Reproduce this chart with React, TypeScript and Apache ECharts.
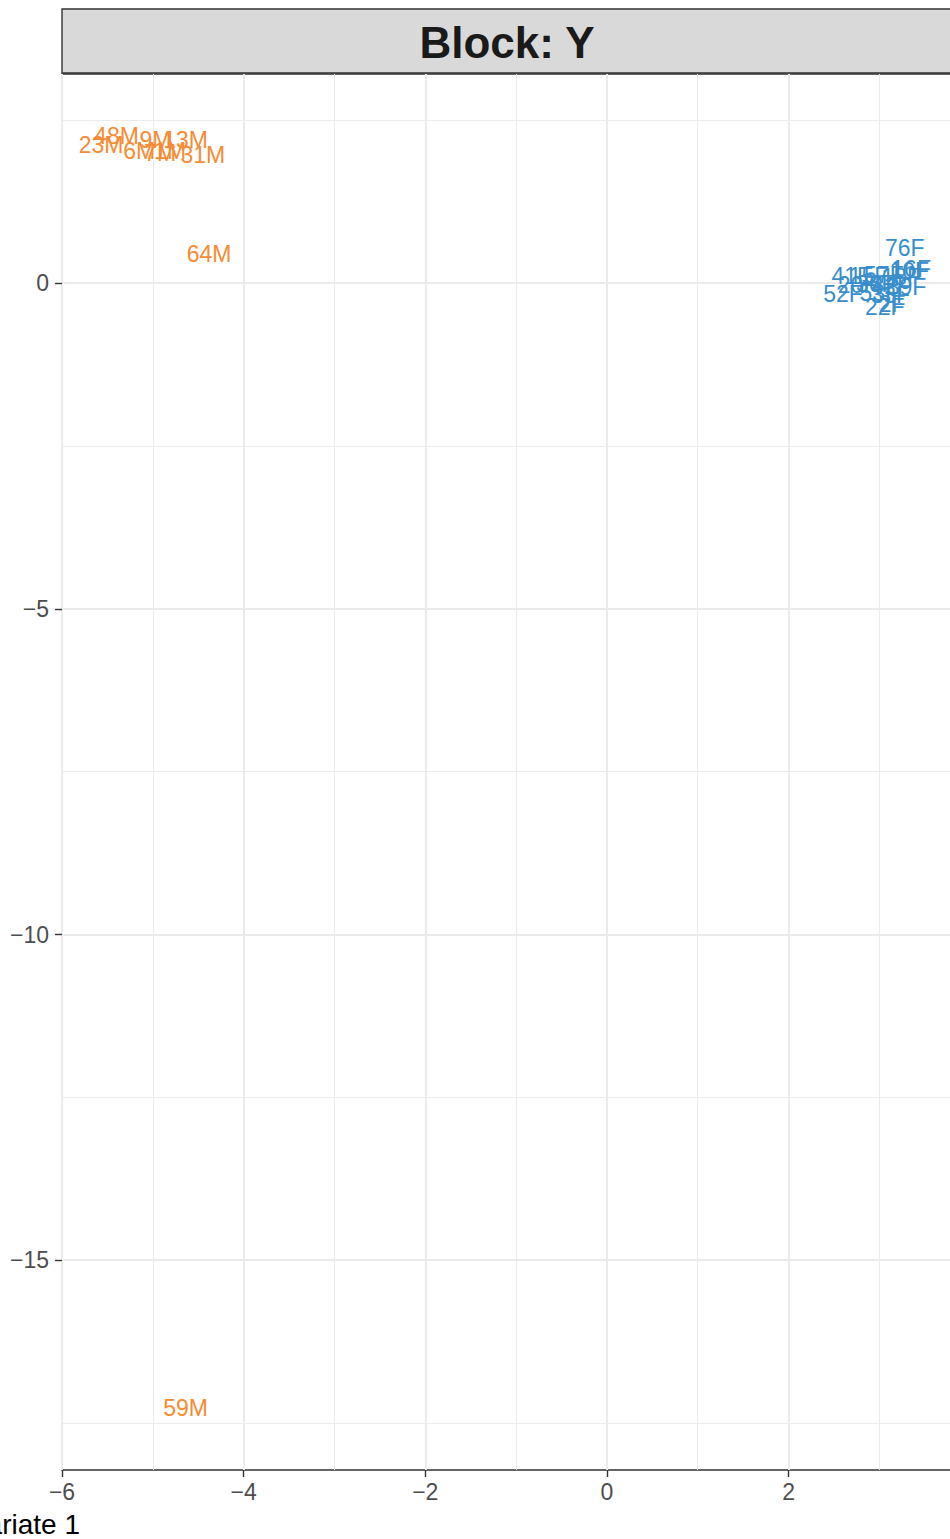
import React, { useEffect, useRef } from "react";
import * as echarts from "echarts";

// Orange group (M)
const maleNames = ["23M", "48M", "6M", "7M", "1M", "9M", "13M", "31M", "64M", "59M"];
const maleX = [-5.57, -5.40, -5.15, -4.92, -4.81, -4.97, -4.64, -4.45, -4.38, -4.64];
const maleY = [2.12, 2.26, 2.03, 2.0, 2.03, 2.2, 2.19, 1.96, 0.45, -17.27];

// Blue group (F)
const femaleNames = ["76F", "16F", "10F", "41F", "15F", "57F", "18F", "20F", "36F", "42F", "39F", "52F", "53F", "33F", "22F", "2F"];
const femaleX = [3.28, 3.35, 3.33, 2.69, 2.88, 3.05, 3.24, 2.76, 2.96, 3.13, 3.3, 2.6, 3.0, 3.12, 3.06, 3.14];
const femaleY = [0.54, 0.22, 0.18, 0.11, 0.11, 0.12, 0.1, -0.03, -0.02, -0.04, -0.06, -0.17, -0.15, -0.18, -0.36, -0.32];

const xTicks = [-6, -4, -2, 0, 2];
const yTicks = [-15, -10, -5, 0];

const FONT = "'Liberation Sans', Arial, Helvetica, sans-serif";
const ORANGE = "#F68B33";
const BLUE = "#388ECC";

const fmt = (v: number) => (v < 0 ? "\u2212" + Math.abs(v) : String(v));

export default function App() {
  const ref = useRef<HTMLDivElement>(null);
  useEffect(() => {
    if (!ref.current) return;
    const chart = echarts.init(ref.current, undefined, { renderer: "svg" });
    const mk = (names: string[], xs: number[], ys: number[]) =>
      names.map((n, i) => ({ name: n, value: [xs[i], ys[i]] }));
    const labelCommon = (color: string) => ({
      show: true,
      position: "inside",
      formatter: (p: any) => p.name,
      color,
      opacity: 1,
      fontSize: 23,
      fontFamily: FONT,
    });
    const splitLine = { show: true, lineStyle: { color: "#EBEBEB", width: 2 } };
    const minorSplitLine = { show: true, lineStyle: { color: "#EBEBEB", width: 1 } };
    const tickStyle = { color: "#333333", width: 1.4 };
    chart.setOption({
      animation: false,
      backgroundColor: "#FFFFFF",
      grid: {
        left: 62,
        right: 8,
        top: 74,
        bottom: 69,
        show: true,
        borderColor: "#333333",
        borderWidth: 1.4,
        backgroundColor: "transparent",
      },
      xAxis: {
        type: "value",
        position: "bottom",
        min: -6,
        max: 3.8,
        minInterval: 2,
        maxInterval: 2,
        axisLine: { show: false, onZero: false },
        axisTick: { show: true, customValues: xTicks, length: 7, lineStyle: tickStyle },
        axisLabel: {
          customValues: xTicks,
          formatter: fmt,
          color: "#4D4D4D",
          fontSize: 23,
          fontFamily: FONT,
          margin: 10,
        },
        splitLine,
        minorTick: { show: false, splitNumber: 2 },
        minorSplitLine,
      },
      yAxis: {
        type: "value",
        position: "left",
        min: -18.22,
        max: 3.21,
        minInterval: 5,
        maxInterval: 5,
        axisLine: { show: false, onZero: false },
        axisTick: { show: true, customValues: yTicks, length: 7, lineStyle: tickStyle },
        axisLabel: {
          customValues: yTicks,
          formatter: fmt,
          color: "#4D4D4D",
          fontSize: 23,
          fontFamily: FONT,
          margin: 13,
        },
        splitLine,
        minorTick: { show: false, splitNumber: 2 },
        minorSplitLine,
      },
      graphic: [
        {
          type: "rect",
          shape: { x: 62, y: 9, width: 890, height: 64 },
          style: { fill: "#D9D9D9", stroke: "#333333", lineWidth: 1.4 },
        },
        {
          type: "text",
          x: 507,
          y: 42,
          style: {
            text: "Block: Y",
            fill: "#1A1A1A",
            font: "bold 44px " + FONT,
            align: "center",
            verticalAlign: "middle",
          },
        },
        {
          type: "text",
          x: 80,
          y: 1524,
          style: {
            text: "Variate 1",
            fill: "#000000",
            font: "28px " + FONT,
            align: "right",
            verticalAlign: "middle",
          },
        },
      ],
      series: [
        {
          type: "scatter",
          symbolSize: 0,
          data: mk(maleNames, maleX, maleY),
          itemStyle: { color: ORANGE, opacity: 1 },
          label: labelCommon(ORANGE),
          z: 3,
        },
        {
          type: "scatter",
          symbolSize: 0,
          data: mk(femaleNames, femaleX, femaleY),
          itemStyle: { color: BLUE, opacity: 1 },
          label: labelCommon(BLUE),
          z: 3,
        },
      ],
    });
    return () => chart.dispose();
  }, []);
  return (
    <div style={{ position: "absolute", left: 0, top: 0, width: 950, height: 1539, overflow: "hidden", background: "#fff" }}>
      <div ref={ref} style={{ width: 960, height: 1539 }} />
    </div>
  );
}
